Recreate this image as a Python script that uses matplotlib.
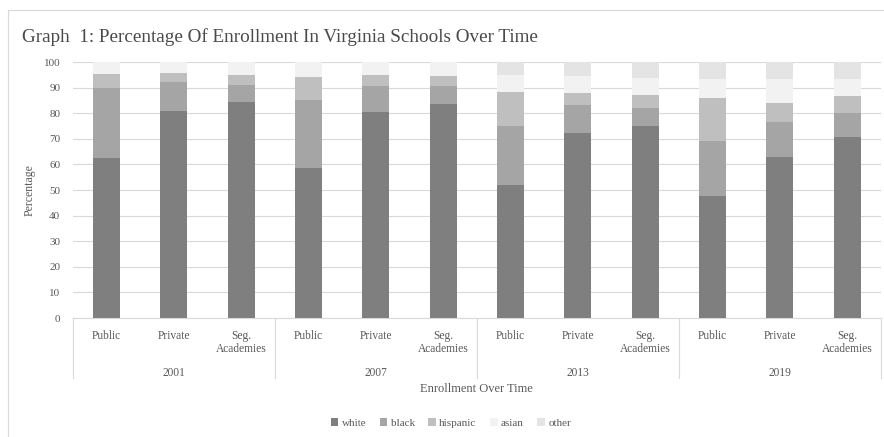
import matplotlib.pyplot as plt
from matplotlib.patches import Patch, Rectangle
import numpy as np

years = ["2001", "2007", "2013", "2019"]
schools = ["Public", "Private", "Seg.\nAcademies"]
races = ["white", "black", "hispanic", "asian", "other"]
colors = ["#7f7f7f", "#a5a5a5", "#bfbfbf", "#f2f2f2", "#e4e4e4"]

# one row per year/school combination, in the order drawn
white = [62.7, 81.0, 84.3, 58.6, 80.3, 83.7, 52.0, 72.4, 75.0, 47.5, 62.9, 70.8]
black = [27.1, 11.4, 6.7, 26.6, 10.4, 6.8, 23.2, 11.0, 7.1, 21.8, 13.7, 9.2]
hispanic = [5.5, 3.3, 4.0, 8.9, 4.2, 4.1, 13.0, 4.4, 5.0, 16.8, 7.5, 6.7]
asian = [4.7, 4.3, 5.0, 5.9, 5.1, 5.4, 6.6, 6.6, 6.5, 7.4, 9.1, 6.5]
other = [0, 0, 0, 0, 0, 0, 5.2, 5.6, 6.4, 6.5, 6.8, 6.8]

serif = "Liberation Serif"
plt.rcParams["font.family"] = serif

fig = plt.figure(figsize=(8.84, 4.37), dpi=100)
ax = fig.add_axes([0.0822, 0.2723, 0.9144, 0.5857])

x = np.arange(len(white))
bottom = np.zeros(len(white))
series = [white, black, hispanic, asian, other]
for vals, c, name in zip(series, colors, races):
    ax.bar(x, vals, 0.4, bottom=bottom, color=c, label=name, zorder=3)
    bottom += np.array(vals)

ax.set_xlim(-0.5, len(white) - 0.5)
ax.set_ylim(0, 100)
ax.set_yticks(range(0, 101, 10))
ax.tick_params(axis="y", length=0, labelsize=8, colors="#595959", pad=9)
ax.set_xticks([])
ax.grid(axis="y", color="#d9d9d9", linewidth=0.8, zorder=0)
for s in ["top", "right", "left"]:
    ax.spines[s].set_visible(False)
ax.spines["bottom"].set_color("#d9d9d9")
ax.set_ylabel("Percentage", fontsize=8.5, color="#595959", labelpad=6)

# two-level category axis below the bars
trans = ax.get_xaxis_transform()
for i in range(len(white)):
    ax.text(x[i], -0.045, schools[i % 3], transform=trans, ha="center", va="top",
            fontsize=8.3, color="#595959", linespacing=1.15)
for g, yr in enumerate(years):
    ax.text(g * 3 + 1, -0.19, yr, transform=trans, ha="center", va="top",
            fontsize=8.3, color="#595959")
for g in range(len(years) + 1):
    ax.plot([g * 3 - 0.5] * 2, [0, -0.235], transform=trans, color="#d9d9d9",
            linewidth=0.8, clip_on=False)
ax.text(0.5, -0.255, "Enrollment Over Time", transform=ax.transAxes, ha="center",
        va="top", fontsize=9, color="#595959")

fig.text(0.025, 0.915, "Graph  1: Percentage Of Enrollment In Virginia Schools Over Time",
         fontsize=13.8, color="#4a4a4a", va="center")

handles = [Patch(facecolor=c, label=r) for c, r in zip(colors, races)]
fig.legend(handles=handles, loc="center", bbox_to_anchor=(0.51, 0.032), ncol=5,
           frameon=False, fontsize=8, handlelength=0.7, handleheight=0.7,
           handletextpad=0.3, columnspacing=1.2, labelcolor="#595959")

fig.patches.append(Rectangle((0.009, -0.01), 1.0, 0.987, transform=fig.transFigure,
                             fill=False, edgecolor="#d9d9d9", linewidth=0.8))

fig.savefig("out.png")
